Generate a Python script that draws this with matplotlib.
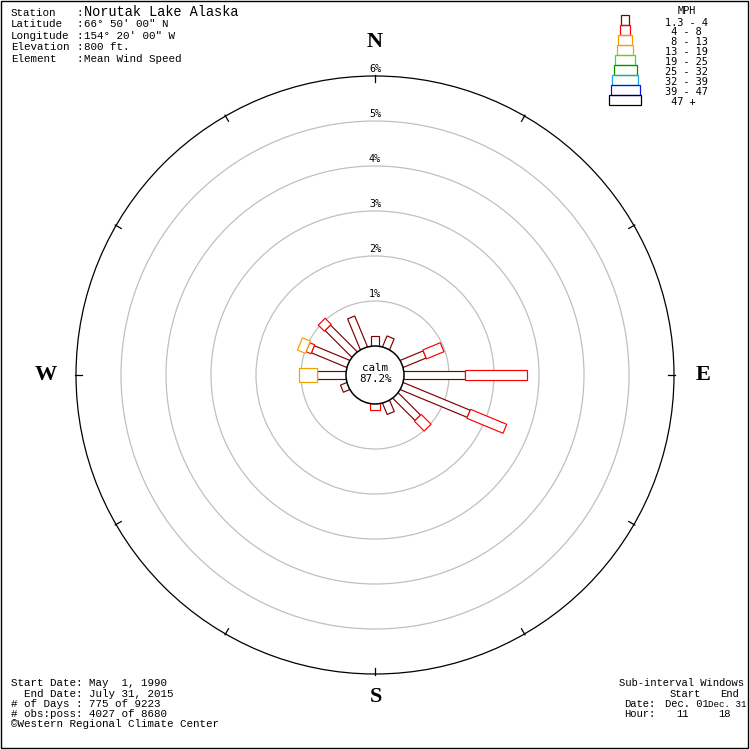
import numpy as np
import matplotlib
matplotlib.use("Agg")
import matplotlib.pyplot as plt
from matplotlib.patches import Polygon, Circle, Rectangle

# ---------------- data ----------------
directions = ["N", "NNE", "NE", "ENE", "E", "ESE", "SE", "SSE",
              "S", "SSW", "SW", "WSW", "W", "WNW", "NW", "NNW"]
speed_classes = ["1.3 - 4", " 4 - 8", " 8 - 13", "13 - 19", "19 - 25",
                 "25 - 32", "32 - 39", "39 - 47", " 47 +"]
pct_1_4 = [0.22, 0.26, 0.00, 0.55, 1.36, 1.61, 0.70, 0.27,
           0.00, 0.00, 0.00, 0.15, 0.64, 0.85, 0.84, 0.74]
pct_4_8 = [0.00, 0.00, 0.00, 0.42, 1.37, 0.87, 0.31, 0.00,
           0.13, 0.00, 0.00, 0.00, 0.00, 0.12, 0.19, 0.00]
pct_8_13 = [0.00, 0.00, 0.00, 0.00, 0.00, 0.00, 0.00, 0.00,
            0.00, 0.00, 0.00, 0.00, 0.40, 0.19, 0.00, 0.00]
pct_13_19 = [0, 0, 0, 0, 0, 0, 0, 0, 0, 0, 0, 0, 0, 0, 0, 0]
pct_19_25 = [0, 0, 0, 0, 0, 0, 0, 0, 0, 0, 0, 0, 0, 0, 0, 0]
pct_25_32 = [0, 0, 0, 0, 0, 0, 0, 0, 0, 0, 0, 0, 0, 0, 0, 0]
pct_32_39 = [0, 0, 0, 0, 0, 0, 0, 0, 0, 0, 0, 0, 0, 0, 0, 0]
pct_39_47 = [0, 0, 0, 0, 0, 0, 0, 0, 0, 0, 0, 0, 0, 0, 0, 0]
pct_47_up = [0, 0, 0, 0, 0, 0, 0, 0, 0, 0, 0, 0, 0, 0, 0, 0]
calm_pct = 87.2
ring_pcts = [1, 2, 3, 4, 5, 6]

header_labels = ["Station", "Latitude", "Longitude", "Elevation", "Element"]
header_values = ["Norutak Lake Alaska", "66\u00b0 50' 00\" N", "154\u00b0 20' 00\" W",
                 "800 ft.", "Mean Wind Speed"]
footer_lines = ["Start Date: May  1, 1990",
                "  End Date: July 31, 2015",
                "# of Days : 775 of 9223",
                "# obs:poss: 4027 of 8680",
                "\u00a9Western Regional Climate Center"]

# ---------------- styles ----------------
class_colors = ["#800000", "#ff0000", "#f0a000", "#e0a820", "#22ee22",
                "#009000", "#1ea0f0", "#1010d8", "#000000"]
class_widths_px = [7.7, 9.7, 13.3, 16.3, 19.3, 23.0, 25.7, 29.0, 32.3]
MONO = ["Liberation Mono", "DejaVu Sans Mono"]
SMONO = ["DejaVu Sans Mono"]

freqs = [pct_1_4, pct_4_8, pct_8_13, pct_13_19, pct_19_25,
         pct_25_32, pct_32_39, pct_39_47, pct_47_up]

PX = 45.0          # pixels per 1 %
R0 = 29.0 / PX     # calm circle radius (data units)

fig = plt.figure(figsize=(7.5, 7.5), dpi=100)
fig.patch.set_facecolor("white")
ax = fig.add_axes([0, 0, 1, 1])
ax.set_xlim(-375 / PX, 375 / PX)
ax.set_ylim(-375 / PX, 375 / PX)
ax.set_aspect("equal")
ax.axis("off")

# rings
for k in ring_pcts:
    outer = k == ring_pcts[-1]
    ax.add_patch(Circle((0, 0), R0 + k, fill=False,
                        ec="black" if outer else "#c0c0c0",
                        lw=0.9, zorder=1))
    ax.text(0, R0 + k + 7 / PX, f"{k}%", ha="center", va="center",
            fontsize=7.3, family=SMONO, zorder=2)

# ticks on outer ring
r_out = R0 + ring_pcts[-1]
for a in range(0, 360, 30):
    t = np.deg2rad(a)
    u = np.array([np.sin(t), np.cos(t)])
    p1 = (r_out - 6 / PX) * u
    p2 = (r_out + 1 / PX) * u
    ax.plot([p1[0], p2[0]], [p1[1], p2[1]], color="black", lw=0.9, zorder=2)

# bars
for d in range(len(directions)):
    t = np.deg2rad(22.5 * d)
    u = np.array([np.sin(t), np.cos(t)])
    v = np.array([np.cos(t), -np.sin(t)])
    cum = 0.0
    for c in range(len(freqs)):
        val = freqs[c][d]
        if val <= 0:
            continue
        ra = R0 + cum if cum > 0 else R0 - 0.1
        rb = R0 + cum + val
        hw = class_widths_px[c] / PX / 2
        pts = [ra * u + hw * v, rb * u + hw * v, rb * u - hw * v, ra * u - hw * v]
        ax.add_patch(Polygon(pts, closed=True, fc="white", ec=class_colors[c],
                             lw=0.85, zorder=3 + c))
        cum += val

# calm circle
ax.add_patch(Circle((0, 0), R0, fc="white", ec="black", lw=1.1, zorder=20))
ax.text(0, (375 - 368) / PX, "calm", ha="center", va="center",
        fontsize=7.8, family=SMONO, zorder=21)
ax.text(0, (375 - 379.5) / PX, f"{calm_pct}%", ha="center", va="center",
        fontsize=7.8, family=SMONO, zorder=21)

# compass labels
compass = [("N", 375, 42), ("E", 703, 375), ("S", 376, 697), ("W", 46, 375)]
for lab, px, py in compass:
    ax.text((px - 375) / PX, (375 - py) / PX, lab, ha="center", va="center",
            fontsize=16, fontweight="bold",
            family=["Liberation Serif", "DejaVu Serif"], zorder=5)

# ---------------- overlay (pixel coordinates) ----------------
ov = fig.add_axes([0, 0, 1, 1], zorder=3)
ov.set_xlim(0, 750)
ov.set_ylim(750, 0)
ov.axis("off")
ov.patch.set_alpha(0)

header_y = [12.5, 24.3, 35.8, 47.2, 58.5]
for lab, val, y in zip(header_labels, header_values, header_y):
    ov.text(11, y, lab, ha="left", va="center", fontsize=7.8, family=MONO)
    ov.text(76, y, ":", ha="left", va="center", fontsize=7.8, family=MONO)
    big = lab == "Station"
    ov.text(84, y, val, ha="left", va="center",
            fontsize=9.8 if big else 7.8, family=MONO)

footer_y = [683.3, 694, 704.3, 714.3, 724.3]
for line, y in zip(footer_lines, footer_y):
    ov.text(11, y, line, ha="left", va="center", fontsize=7.8, family=MONO)

# sub-interval block
ov.text(619, 683.3, "Sub-interval Windows", ha="left", va="center", fontsize=7.6, family=MONO)
ov.text(670, 694, "Start", ha="left", va="center", fontsize=7.6, family=MONO)
ov.text(720, 694, "End", ha="left", va="center", fontsize=7.6, family=MONO)
ov.text(624, 704.3, "Date:", ha="left", va="center", fontsize=7.6, family=MONO)
ov.text(665, 704.3, "Dec. 01", ha="left", va="center", fontsize=7.6, family=MONO)
ov.text(708, 704.3, "Dec. 31", ha="left", va="center", fontsize=6.6, family=MONO)
ov.text(624, 714.3, "Hour:", ha="left", va="center", fontsize=7.6, family=MONO)
ov.text(676, 714.3, "11", ha="left", va="center", fontsize=7.6, family=MONO)
ov.text(718, 714.3, "18", ha="left", va="center", fontsize=7.6, family=MONO)

# legend
ov.text(687, 11, "MPH", ha="center", va="center", fontsize=7.4, family=SMONO)
for i, (lab, col, w) in enumerate(zip(speed_classes, class_colors, class_widths_px)):
    ov.add_patch(Rectangle((625 - w / 2, 15 + 10 * i), w, 10, fill=False,
                           ec=col, lw=0.9))
    ov.text(665, 22.5 + 9.9 * i, lab, ha="left", va="center",
            fontsize=7.4, family=SMONO)

# frame and clip strip
ov.add_patch(Rectangle((748, 0), 3, 751, fc="white", ec="none", zorder=30))
ov.add_patch(Rectangle((0, 748), 751, 3, fc="white", ec="none", zorder=30))
ov.add_patch(Rectangle((0.5, 0.5), 747, 747, fill=False, ec="black", lw=1.0, zorder=31))

fig.savefig("out.png", dpi=100)
